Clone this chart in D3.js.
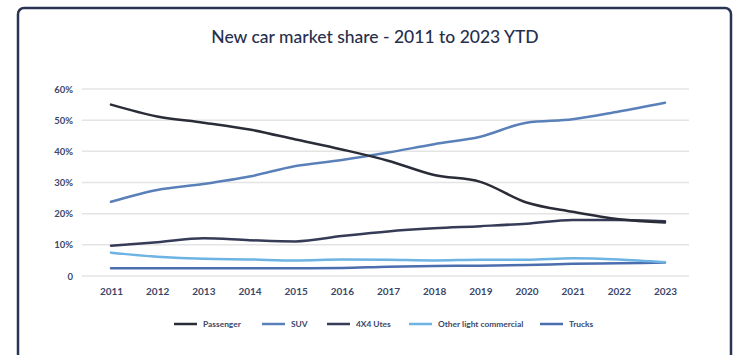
<!DOCTYPE html>
<html>
<head>
<meta charset="utf-8">
<script src="https://cdn.jsdelivr.net/npm/d3@7"></script>
<style>
    html, body { margin: 0; padding: 0; background: #fff; }
    svg { display: block; font-family: Lato, "Open Sans", sans-serif; }
</style>
</head>
<body>
<svg id="chart" width="742" height="355"></svg>
<script>
// Market share by year (%)
const years = ['2011', '2012', '2013', '2014', '2015', '2016', '2017', '2018', '2019', '2020', '2021', '2022', '2023'];
const passenger = [55.0, 51.2, 49.2, 47.0, 43.8, 40.6, 37.0, 32.4, 30.2, 23.6, 20.6, 18.2, 17.2];
const suv = [23.8, 27.6, 29.5, 31.9, 35.3, 37.2, 39.6, 42.3, 44.7, 49.2, 50.3, 52.8, 55.6];
const utes = [9.7, 10.8, 12.1, 11.5, 11.1, 12.8, 14.3, 15.3, 16.0, 16.8, 18.0, 18.0, 17.6];
const otherLc = [7.5, 6.2, 5.5, 5.3, 5.0, 5.3, 5.2, 5.0, 5.2, 5.2, 5.7, 5.3, 4.4];
const trucks = [2.5, 2.5, 2.5, 2.5, 2.5, 2.6, 3.0, 3.2, 3.3, 3.5, 3.9, 4.1, 4.3];
const yTicks = [0, 10, 20, 30, 40, 50, 60];

const series = [
    { name: 'Passenger', values: passenger, color: '#2a2d38' },
    { name: 'SUV', values: suv, color: '#5a80b9' },
    { name: '4X4 Utes', values: utes, color: '#363b57' },
    { name: 'Other light commercial', values: otherLc, color: '#6db3e3' },
    { name: 'Trucks', values: trucks, color: '#4b6eae' },
];

const svg = d3.select('#chart');

// card frame
svg.append('rect')
    .attr('x', 18).attr('y', 8)
    .attr('width', 713).attr('height', 370)
    .attr('rx', 6)
    .attr('fill', '#fff')
    .attr('stroke', '#2a3454')
    .attr('stroke-width', 2.5);

svg.append('text')
    .attr('x', 375).attr('y', 43)
    .attr('text-anchor', 'middle')
    .attr('fill', '#262f4d')
    .attr('font-size', '17.5px')
    .attr('font-weight', 500)
    .text('New car market share - 2011 to 2023 YTD');

const x = d3.scalePoint().domain(years).range([111, 665]);
const y = d3.scaleLinear().domain([0, 60]).range([276, 89]);

// gridlines
svg.append('g')
    .selectAll('line')
    .data(yTicks)
    .join('line')
    .attr('x1', 82).attr('x2', 689)
    .attr('y1', d => y(d)).attr('y2', d => y(d))
    .attr('stroke', '#e4e4e4')
    .attr('stroke-width', 1.5);

// y axis labels
const yAxis = svg.append('g')
    .attr('transform', 'translate(73,0)')
    .call(d3.axisLeft(y).tickValues(yTicks).tickSize(0).tickPadding(0)
        .tickFormat(d => d === 0 ? '0' : d + '%'));
yAxis.select('.domain').remove();
yAxis.selectAll('text')
    .attr('fill', '#3b4768')
    .attr('font-size', '9.5px')
    .attr('font-weight', 700)
    .attr('font-family', 'Lato, sans-serif');

// x axis labels
const xAxis = svg.append('g')
    .attr('transform', 'translate(0,288)')
    .call(d3.axisBottom(x).tickSize(0).tickPadding(0));
xAxis.select('.domain').remove();
xAxis.selectAll('text')
    .attr('fill', '#3b4768')
    .attr('font-size', '10px')
    .attr('font-weight', 700)
    .attr('font-family', 'Lato, sans-serif');

const line = d3.line()
    .x((d, i) => x(years[i]))
    .y(d => y(d))
    .curve(d3.curveMonotoneX);

svg.append('g')
    .selectAll('path')
    .data(series.slice().reverse())
    .join('path')
    .attr('d', d => line(d.values))
    .attr('fill', 'none')
    .attr('stroke', d => d.color)
    .attr('stroke-width', 2.5)
    .attr('stroke-linecap', 'round');

// legend
const legendX = [174, 262, 327, 409, 540];
const legend = svg.append('g')
    .selectAll('g')
    .data(series)
    .join('g')
    .attr('transform', (d, i) => `translate(${legendX[i]},324)`);
legend.append('line')
    .attr('x1', 0).attr('x2', 23)
    .attr('stroke', d => d.color)
    .attr('stroke-width', 2.5);
legend.append('text')
    .attr('x', 29).attr('y', 3)
    .attr('fill', '#3b4768')
    .attr('font-size', '8.4px')
    .attr('font-weight', 700)
    .text(d => d.name);
</script>
</body>
</html>
